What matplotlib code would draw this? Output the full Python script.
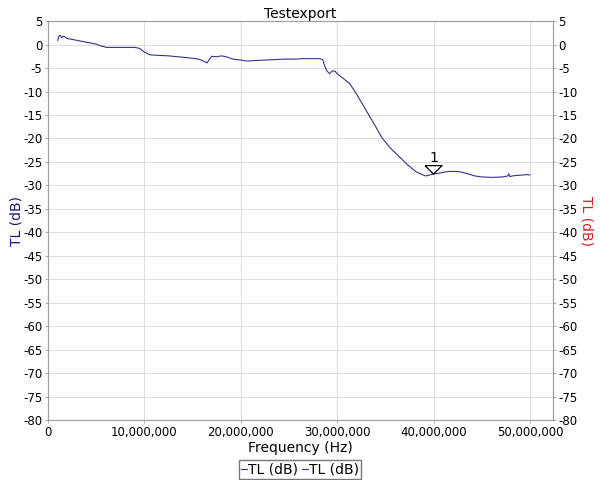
import matplotlib
matplotlib.use("Agg")
import matplotlib.pyplot as plt
from matplotlib.ticker import FuncFormatter, MultipleLocator

plt.rcParams["axes.unicode_minus"] = False

# trace (frequency in MHz, TL in dB)
freq_mhz = [1.0, 1.1, 1.25, 1.4, 1.6, 2.0, 2.5, 3.0, 3.5, 4.0, 4.5, 5.0, 5.5,
            6.1, 7.0, 8.0, 9.0, 9.5, 10.0, 10.6, 11.5, 12.5, 13.5, 14.5, 15.3,
            15.8, 16.2, 16.5, 16.8, 17.0, 17.5, 18.0, 18.5, 19.2, 20.0, 20.6,
            21.5, 22.5, 23.5, 24.5, 25.5, 26.5, 27.5, 28.2, 28.5, 28.7, 28.9,
            29.2, 29.5, 29.8, 30.0, 30.5, 31.3, 32.0, 33.0, 34.0, 34.7, 35.5,
            36.5, 37.3, 38.2, 38.7, 39.2, 39.6, 39.9, 40.6, 41.3, 42.0, 42.7,
            43.5, 44.3, 45.0, 46.0, 47.2, 47.7, 47.8, 47.9, 48.5, 49.2, 49.7,
            50.0]
tl_db = [0.9, 1.6, 2.0, 1.5, 1.8, 1.3, 1.1, 0.9, 0.7, 0.5, 0.3, 0.1, -0.3,
         -0.6, -0.6, -0.6, -0.6, -0.8, -1.6, -2.2, -2.3, -2.4, -2.6, -2.8, -3.0,
         -3.2, -3.6, -3.9, -3.0, -2.5, -2.6, -2.4, -2.6, -3.1, -3.3, -3.5,
         -3.4, -3.3, -3.2, -3.1, -3.1, -3.0, -3.0, -3.0, -3.2, -4.5, -5.5,
         -6.2, -5.6, -5.7, -6.2, -7.0, -8.3, -10.5, -14.0, -17.5, -20.0, -22.0,
         -24.0, -25.6, -27.1, -27.6, -28.0, -27.8, -27.6, -27.4, -27.1, -27.0, -27.1,
         -27.5, -28.0, -28.2, -28.3, -28.2, -28.0, -27.5, -28.1, -27.9, -27.8, -27.7,
         -27.8]
marker_mhz = 40.0
marker_db = -27.6
marker_label = "1"

LINE = "#33338c"
GRID = "#d8d8d8"
FRAME = "#a0a0a0"

freq_hz = [f * 1e6 for f in freq_mhz]

fig = plt.figure(figsize=(6, 4.8), dpi=100)
ax = fig.add_axes([0.08, 0.125, 0.8417, 0.831])
ax2 = ax.twinx()

l1, = ax.plot(freq_hz, tl_db, color=LINE, lw=0.8, label="TL (dB)")
l2, = ax2.plot([], [], color=LINE, lw=0.8, label="TL (dB)")

# marker: flat open triangle sitting on the trace
ax.scatter([marker_mhz * 1e6], [marker_db + 0.9], marker=[(-1, 0.5), (1, 0.5), (0, -0.5), (-1, 0.5)],
           s=150, facecolors="none", edgecolors="black", linewidths=0.9, zorder=5)
ax.text(marker_mhz * 1e6, marker_db + 2.0, marker_label, ha="center", va="bottom",
        fontsize=10)

for a in (ax, ax2):
    a.set_xlim(0, 52.4e6)
    a.set_ylim(-80, 5)
    a.yaxis.set_major_locator(MultipleLocator(5))
    a.tick_params(labelsize=8.5, length=2, width=0.6, color=FRAME, pad=2)
    for s in a.spines.values():
        s.set_color(FRAME)
        s.set_linewidth(0.8)

ax.xaxis.set_major_locator(MultipleLocator(10e6))
ax.xaxis.set_major_formatter(FuncFormatter(lambda v, p: f"{int(v):,}"))
ax.grid(True, color=GRID, lw=0.6)
ax.set_axisbelow(True)

ax.set_title("Testexport", fontsize=10, pad=2)
ax.set_xlabel("Frequency (Hz)", fontsize=10, labelpad=2)
ax.set_ylabel("TL (dB)", fontsize=10, color="#1a1a80", labelpad=0)
ax2.set_ylabel("TL (dB)", fontsize=10, color="#e02020", rotation=270, labelpad=11)

fig.legend([l1, l2], ["TL (dB)", "TL (dB)"], loc="lower center",
           bbox_to_anchor=(0.5, 0.0), ncol=2, fontsize=10, frameon=True,
           fancybox=False, edgecolor="#555555", handlelength=0.4,
           handletextpad=0.1, columnspacing=0.3, borderpad=0.15,
           borderaxespad=0.1)

fig.savefig("out.png", dpi=100)
